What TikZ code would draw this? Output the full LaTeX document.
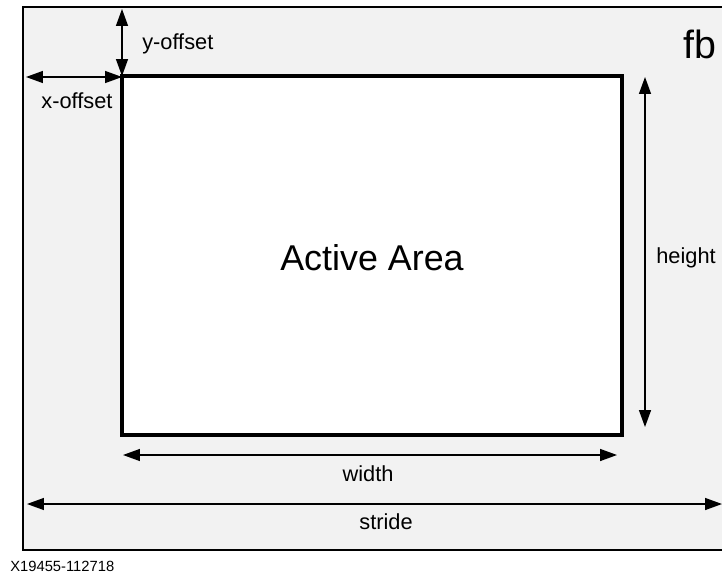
\documentclass[tikz,border=0pt]{standalone}
\usepackage{fontspec}
\setmainfont{Liberation Sans}
\usetikzlibrary{arrows.meta}

\begin{document}
\begin{tikzpicture}[x=0.025cm,y=-0.025cm,
    dim/.style={{Triangle[length=12pt,width=8.5pt]}-{Triangle[length=12pt,width=8.5pt]}, line width=0.9pt},
    lbl/.style={font=\fontsize{15.5}{18}\selectfont}]
    \useasboundingbox (0,0) rectangle (722,573);

    % Frame buffer (runs past the right edge)
    \begin{scope}
        \clip (0,0) rectangle (722,573);
        \draw[line width=1.8pt,fill=gray!10] (23,7) rectangle (760,550);
    \end{scope}
    \node[font=\fontsize{28}{32}\selectfont] (fb) at (700,44) {fb};

    % Active area
    \draw[line width=2.4pt,fill=white] (122,76) rectangle (622,435);
    \node[font=\fontsize{25.5}{30}\selectfont] (active) at (372,258) {Active Area};

    % Dimension end points
    \coordinate (xo1) at (26,77);
    \coordinate (xo2) at (122,77);
    \coordinate (yo1) at (122,9);
    \coordinate (yo2) at (122,76);
    \coordinate (h1) at (645,77);
    \coordinate (h2) at (645,427);
    \coordinate (w1) at (123,455);
    \coordinate (w2) at (617,455);
    \coordinate (s1) at (27,504);
    \coordinate (s2) at (722,504);

    % Dimensions
    \draw[dim] (yo1) -- (yo2);
    \node[lbl,anchor=west,inner sep=0pt] (yoff) at (142,44) {y-offset};
    \draw[dim] (xo1) -- (xo2);
    \node[lbl] (xoff) at (77,101) {x-offset};
    \draw[dim] (h1) -- (h2);
    \node[lbl] (height) at (686,258) {height};
    \draw[dim] (w1) -- (w2);
    \node[lbl] (width) at (368,474) {width};
    \draw[dim] (s1) -- (s2);
    \node[lbl] (stride) at (386,522) {stride};

    % Figure number
    \node[font=\fontsize{10.5}{12}\selectfont,anchor=west,inner sep=0pt] (fig) at (10,566) {X19455-112718};
\end{tikzpicture}
\end{document}
